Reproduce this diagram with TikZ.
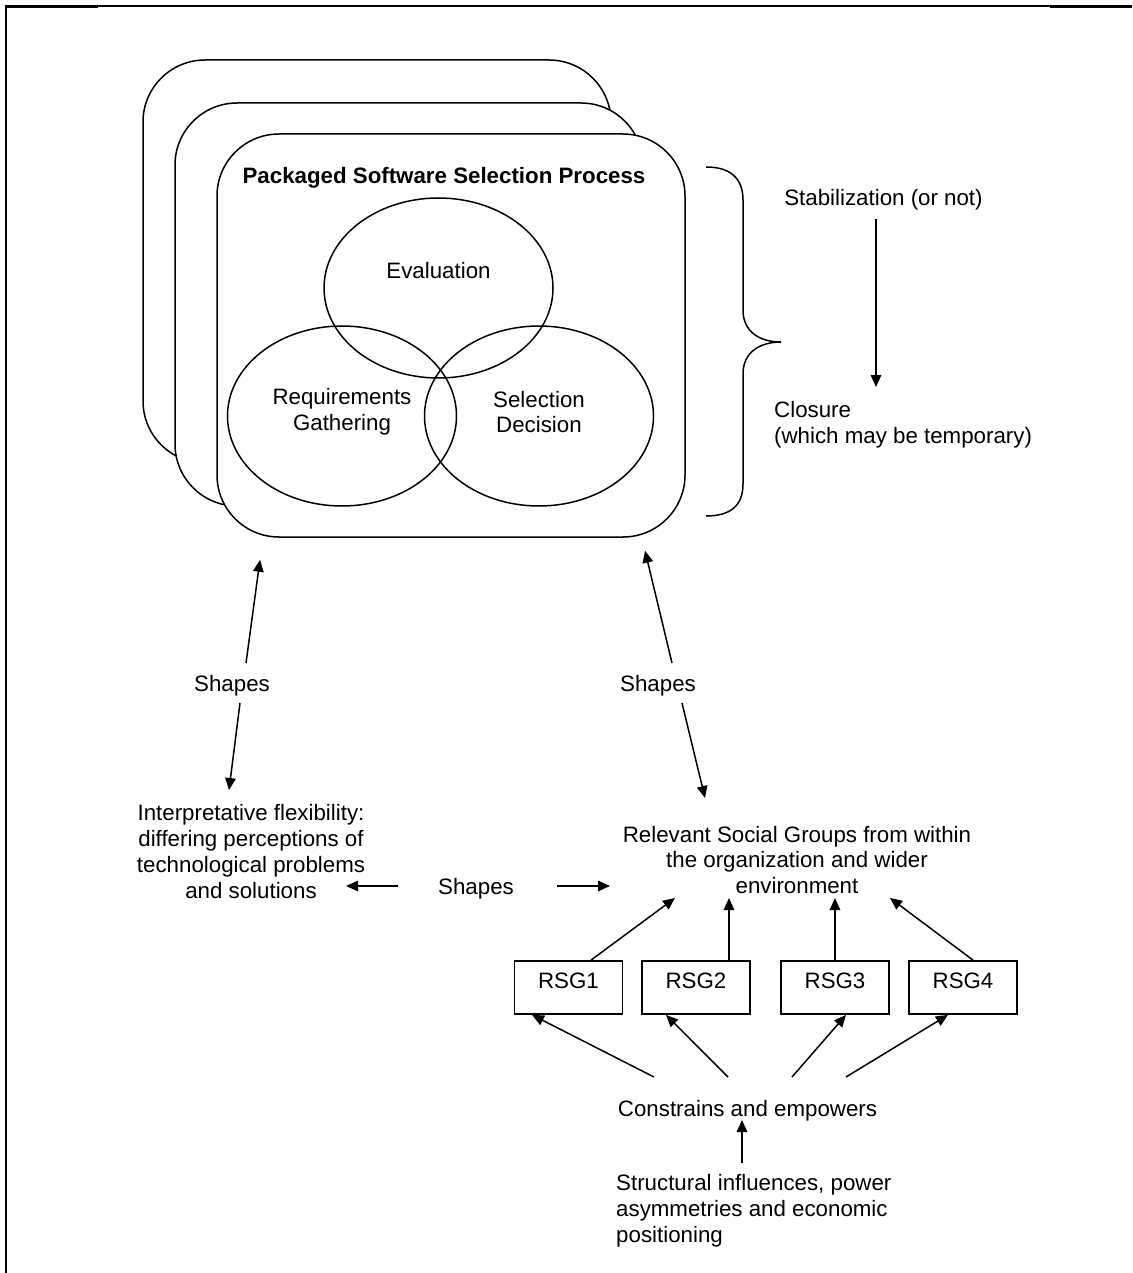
\documentclass[tikz,border=0pt]{standalone}
\usepackage{fontspec}
\setmainfont{Liberation Sans}
\usetikzlibrary{shapes.geometric,arrows.meta,calc}
\begin{document}
\begin{tikzpicture}[x=1pt,y=-1pt,
  every node/.style={font=\fontsize{22.3}{25.8}\selectfont, inner sep=0pt},
  lbl/.style={align=center},
  pbox/.style={draw, line width=1.5pt, rounded corners=62pt, fill=white, minimum width=468pt, minimum height=403pt},
  venn/.style={ellipse, draw, line width=1.5pt, minimum width=229pt, minimum height=180pt},
  arr/.style={line width=1.5pt, -{Triangle[length=12pt,width=10.5pt]}},
  rsgbox/.style={draw, line width=1.8pt, minimum width=108pt, minimum height=53pt, text depth=14pt},
  brace/.style={line width=1.5pt}
]
\fill[white] (0,0) rectangle (1132,1273);
\useasboundingbox (0,0) rectangle (1132,1273);

% page frame
\draw[line width=2.6pt] (6,1273) -- (6,5);
\draw[line width=1.7pt] (6,6) -- (1132,6);
\draw[line width=3.4pt] (5,6.8) -- (98,6.8);
\draw[line width=3.4pt] (1050,6.8) -- (1132,6.8);

% stacked process boxes
\node[pbox] (back1) at (377,261.5) {};
\node[pbox] (back2) at (409,304.5) {};
\node[pbox] (proc) at (451,335.5) {};
\node[font=\fontsize{22.3}{25.8}\selectfont\bfseries] (title) at (444,177.5) {Packaged Software Selection Process};

% Venn ellipses
\node[venn] (evalE) at (438.5,288) {};
\node[venn] (reqE) at (342,416) {};
\node[venn] (selE) at (539,416) {};
\node[lbl] (evalT) at (438.5,270.5) {Evaluation};
\node[lbl] (reqT) at (342,412) {Requirements\\Gathering};
\node[lbl] (selT) at (539,412) {Selection\\Decision};

% brace
\draw[brace] (706,167) .. controls (730,167) and (743,178) .. (743,200)
  -- (743,310) .. controls (743,332) and (760,342) .. (781,342)
  .. controls (760,342) and (743,352) .. (743,374)
  -- (743,484) .. controls (743,506) and (730,516) .. (706,516);

% stabilization / closure
\node[lbl] (stab) at (883.5,199.5) {Stabilization (or not)};
\node[align=left, anchor=west] (closure) at (774,425) {Closure\\(which may be temporary)};
\draw[arr] ($(stab.center)+(-7.5,19.5)$) -- ($(closure.west)+(102,-38)$);

% shapes labels
\node[lbl] (ls) at (232,685.5) {Shapes};
\node[lbl] (rs) at (658,685.5) {Shapes};
\node[lbl] (bs) at (476,888.5) {Shapes};
\node[lbl] (interp) at (251,851.5) {Interpretative flexibility:\\differing perceptions of\\technological problems\\and solutions};
\node[lbl] (rel) at (797,860) {Relevant Social Groups from within\\the organization and wider\\environment};

\draw[arr] ($(ls.center)+(14,-22.5)$) -- ($(proc.south)+(-191,22)$);
\draw[arr] ($(ls.center)+(8,17.5)$) -- ($(interp.center)+(-22,-61.5)$);
\draw[arr] ($(rs.center)+(14,-22.5)$) -- ($(proc.south)+(194,13)$);
\draw[arr] ($(rs.center)+(24,17.5)$) -- ($(rel.center)+(-92,-62)$);
\draw[arr] ($(bs.center)+(-78,-2.5)$) -- ($(interp.center)+(95,34.5)$);
\draw[arr] ($(bs.center)+(81,-2.5)$) -- ($(rel.center)+(-187,26)$);

% RSG boxes
\node[rsgbox] (rsg1) at (568.5,987.5) {RSG1};
\node[rsgbox] (rsg2) at (696,987.5) {RSG2};
\node[rsgbox] (rsg3) at (835,987.5) {RSG3};
\node[rsgbox] (rsg4) at (963,987.5) {RSG4};

\draw[arr] ($(rsg1.north)+(22.5,0)$) -- ($(rel.center)+(-122,38)$);
\draw[arr] ($(rsg2.north)+(33,0)$) -- ($(rel.center)+(-68,38)$);
\draw[arr] ($(rsg3.north)+(0,0)$) -- ($(rel.center)+(38,38)$);
\draw[arr] ($(rsg4.north)+(10,0)$) -- ($(rel.center)+(93,38)$);

% constrains
\node[lbl] (ce) at (747.5,1110.5) {Constrains and empowers};
\node[align=left, anchor=west] (struct) at (616,1210.5) {Structural influences, power\\asymmetries and economic\\positioning};

\draw[arr] ($(ce.center)+(-93.5,-33.5)$) -- ($(rsg1.south)+(-36.5,0)$);
\draw[arr] ($(ce.center)+(-19.5,-33.5)$) -- ($(rsg2.south)+(-30,0)$);
\draw[arr] ($(ce.center)+(44.5,-33.5)$) -- ($(rsg3.south)+(11,0)$);
\draw[arr] ($(ce.center)+(98.5,-33.5)$) -- ($(rsg4.south)+(-15,0)$);
\draw[arr] ($(struct.west)+(126,-47.5)$) -- ($(ce.center)+(-5.5,9.5)$);
\end{tikzpicture}
\end{document}
